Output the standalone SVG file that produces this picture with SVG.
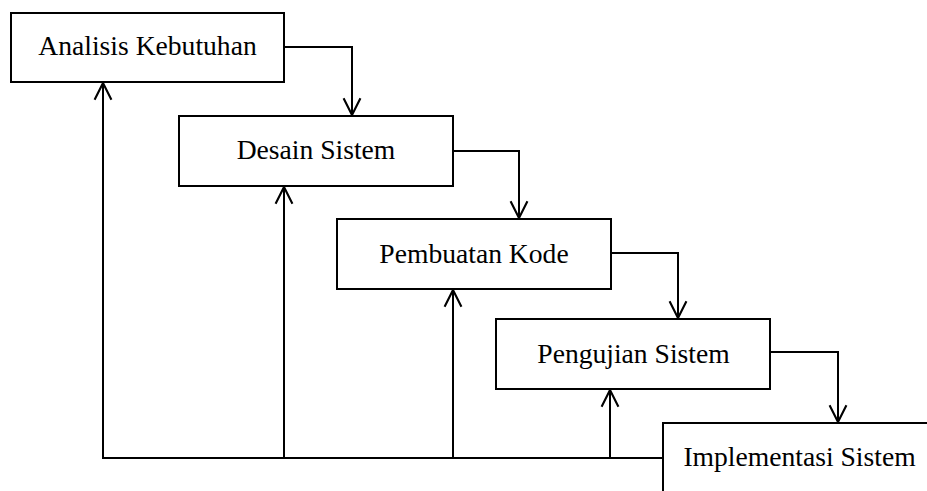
<svg xmlns="http://www.w3.org/2000/svg" width="927" height="491" viewBox="0 0 927 491">
<style>
.box{fill:#fff;stroke:#000;stroke-width:2}
.lbl{font-family:"Liberation Serif","Times New Roman",serif;font-size:27.6px;fill:#000;text-anchor:middle}
.con{fill:none;stroke:#000;stroke-width:2}
</style>
<defs>
<marker id="arr" markerUnits="userSpaceOnUse" markerWidth="20" markerHeight="20" viewBox="-17 -9 19 18" refX="0" refY="0" orient="auto">
<path d="M-16,-8 L0,0 L-16,8" fill="none" stroke="#000" stroke-width="2"/>
</marker>
</defs>
<rect width="927" height="491" fill="#fff"/>
<g id="connectors">
<polyline class="con" points="284,47 352,47 352,115" marker-end="url(#arr)"/>
<polyline class="con" points="453,151 519,151 519,218" marker-end="url(#arr)"/>
<polyline class="con" points="611,253 678,253 678,318" marker-end="url(#arr)"/>
<polyline class="con" points="770,352 838,352 838,422" marker-end="url(#arr)"/>
<polyline class="con" points="663,458 103,458 103,83" marker-end="url(#arr)"/>
<line class="con" x1="284" y1="458" x2="284" y2="187" marker-end="url(#arr)"/>
<line class="con" x1="453" y1="458" x2="453" y2="290" marker-end="url(#arr)"/>
<line class="con" x1="610" y1="458" x2="610" y2="390" marker-end="url(#arr)"/>
</g>
<g id="analisis">
<rect class="box" x="11" y="13" width="273" height="69"/>
<text class="lbl" x="147.5" y="55">Analisis Kebutuhan</text>
</g>
<g id="desain">
<rect class="box" x="179" y="116" width="274" height="70"/>
<text class="lbl" x="316" y="159">Desain Sistem</text>
</g>
<g id="pembuatan">
<rect class="box" x="337" y="219" width="274" height="70"/>
<text class="lbl" x="474" y="263">Pembuatan Kode</text>
</g>
<g id="pengujian">
<rect class="box" x="496" y="319" width="274" height="70"/>
<text class="lbl" x="633.5" y="363">Pengujian Sistem</text>
</g>
<g id="implementasi">
<rect class="box" x="663" y="423" width="280" height="80"/>
<text class="lbl" x="799.5" y="466">Implementasi Sistem</text>
</g>
</svg>
